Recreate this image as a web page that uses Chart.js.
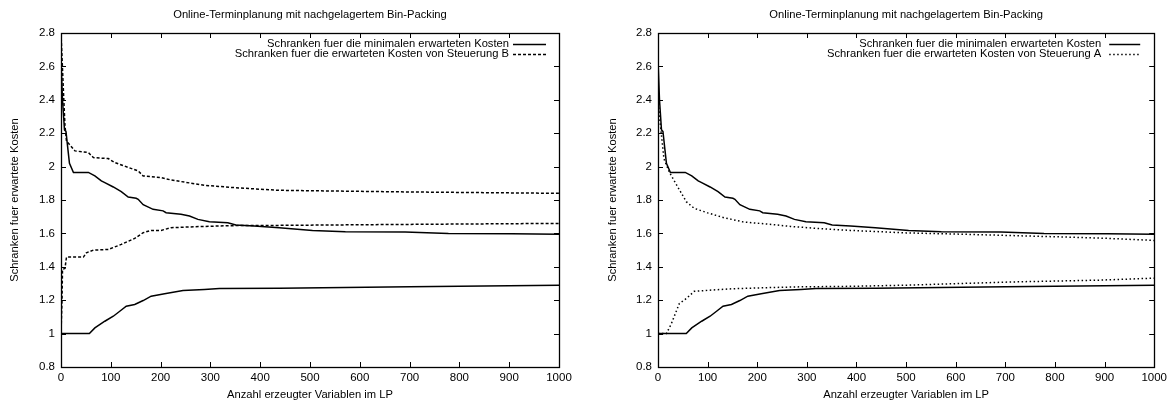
<!DOCTYPE html>
<html><head><meta charset="utf-8">
<script src="https://cdn.jsdelivr.net/npm/chart.js@4.4.0/dist/chart.umd.min.js"></script>
<style>
html,body{margin:0;padding:0;background:#fff;}
#wrap{position:relative;width:1171px;height:403px;overflow:hidden;}
canvas{position:absolute;top:0;}
</style></head><body>
<div id="wrap">
<canvas id="c1" width="585" height="403" style="left:0px"></canvas>
<canvas id="c2" width="586" height="403" style="left:585px"></canvas>
</div>
<script>
const chartTitle = "Online-Terminplanung mit nachgelagertem Bin-Packing";
const xAxisTitle = "Anzahl erzeugter Variablen im LP";
const yAxisTitle = "Schranken fuer erwartete Kosten";
const labelMin = "Schranken fuer die minimalen erwarteten Kosten";
const labelB = "Schranken fuer die erwarteten Kosten von Steuerung B";
const labelA = "Schranken fuer die erwarteten Kosten von Steuerung A";

const xTicks = [0,100,200,300,400,500,600,700,800,900,1000];
const xTickLabels = ["0","100","200","300","400","500","600","700","800","900","1000"];
const yTicks = [0.8,1.0,1.2,1.4,1.6,1.8,2.0,2.2,2.4,2.6,2.8];
const yTickLabels = ["0.8","1","1.2","1.4","1.6","1.8","2","2.2","2.4","2.6","2.8"];

// minimal expected cost: upper bound
const minUpperX = [0,3,7,10,14,17,25,55,68,81,88,105,121,135,151,155,165,185,205,211,241,258,275,298,335,351,388,438,505,571,691,778,905,1000];
const minUpperY = [2.64,2.40,2.22,2.21,2.10,2.02,1.965,1.965,1.944,1.914,1.904,1.878,1.85,1.818,1.81,1.804,1.772,1.744,1.735,1.724,1.715,1.704,1.684,1.67,1.664,1.65,1.644,1.634,1.617,1.61,1.608,1.6,1.598,1.595];
// minimal expected cost: lower bound
const minLowerX = [0,57,68,88,105,118,131,148,165,181,208,245,288,318,438,700,1000];
const minLowerY = [1.0,1.0,1.034,1.074,1.104,1.134,1.164,1.174,1.198,1.224,1.238,1.258,1.264,1.27,1.272,1.28,1.29];
// Steuerung B: upper bound
const bUpperX = [0,5,8,11,28,55,65,95,108,155,165,201,221,288,348,381,438,705,1000];
const bUpperY = [2.8,2.444,2.244,2.154,2.094,2.084,2.054,2.048,2.024,1.974,1.944,1.934,1.92,1.888,1.874,1.868,1.858,1.848,1.84];
// Steuerung B: lower bound
const bLowerX = [0,2,3,8,11,45,51,65,95,121,148,165,181,201,221,268,335,388,438,700,1000];
const bLowerY = [1.0,1.2,1.385,1.39,1.458,1.458,1.484,1.5,1.504,1.534,1.57,1.604,1.618,1.618,1.634,1.64,1.646,1.648,1.648,1.654,1.66];
// Steuerung A: upper bound
const aUpperX = [0,3,7,12,23,40,57,73,100,133,173,220,267,320,387,500,600,700,800,900,1000];
const aUpperY = [2.45,2.3,2.186,2.046,1.966,1.877,1.79,1.75,1.723,1.694,1.668,1.656,1.642,1.63,1.618,1.603,1.596,1.588,1.58,1.571,1.558];
// Steuerung A: lower bound
const aLowerX = [0,17,27,43,57,73,100,153,220,287,387,500,723,889,1000];
const aLowerY = [1.0,1.0,1.06,1.18,1.21,1.253,1.259,1.269,1.275,1.28,1.283,1.29,1.31,1.32,1.332];

const FONT = "'Liberation Sans', Arial, Helvetica, sans-serif";
const TEXT_SIZE = 11.2;
const TICK_SIZE = 11.5;
Chart.defaults.color = '#000';
Chart.defaults.font.family = FONT;

function pts(xs, ys){ return xs.map((x,i)=>({x:x, y:ys[i]})); }
function labelFor(ticks, labels, v){ const i = ticks.findIndex(t=>Math.abs(t-v)<1e-6); return i>=0 ? labels[i] : ''; }

const frameTicks = {
  id:'frameTicks',
  afterDatasetsDraw(chart){
    const {ctx, chartArea:a, scales} = chart;
    const L = 5;
    ctx.save();
    ctx.strokeStyle = '#000';
    ctx.lineWidth = 1;
    ctx.beginPath();
    xTicks.forEach(v=>{
      const px = Math.round(scales.x.getPixelForValue(v))+0.5;
      ctx.moveTo(px, a.bottom); ctx.lineTo(px, a.bottom-L);
      ctx.moveTo(px, a.top); ctx.lineTo(px, a.top+L);
    });
    yTicks.forEach(v=>{
      const py = Math.round(scales.y.getPixelForValue(v))+0.5;
      ctx.moveTo(a.left, py); ctx.lineTo(a.left+L, py);
      ctx.moveTo(a.right, py); ctx.lineTo(a.right-L, py);
    });
    ctx.stroke();
    ctx.lineWidth = 1.3;
    ctx.strokeRect(Math.round(a.left)+0.5, Math.round(a.top)+0.5, Math.round(a.right-a.left), Math.round(a.bottom-a.top));
    ctx.restore();
  }
};

const topTitle = {
  id:'topTitle',
  afterDraw(chart){
    const {ctx, chartArea:a} = chart;
    ctx.save();
    ctx.fillStyle = '#000';
    ctx.font = TEXT_SIZE + "px " + FONT;
    ctx.textAlign = 'center';
    ctx.textBaseline = 'middle';
    ctx.fillText(chartTitle, (a.left+a.right)/2, 15);
    ctx.restore();
  }
};

const keyLegend = {
  id:'keyLegend',
  afterDatasetsDraw(chart, args, opts){
    const {ctx, chartArea:a} = chart;
    ctx.save();
    ctx.font = TEXT_SIZE + "px " + FONT;
    ctx.fillStyle = '#000';
    ctx.textAlign = 'right';
    ctx.textBaseline = 'middle';
    opts.entries.forEach((idx, row)=>{
      const ds = chart.data.datasets[idx];
      const y = a.top + opts.rowTop + row*opts.rowGap;
      ctx.fillText(ds.label, a.right - opts.textRight, y);
      ctx.beginPath();
      ctx.strokeStyle = ds.borderColor;
      ctx.lineWidth = ds.borderWidth;
      ctx.setLineDash(ds.borderDash || []);
      ctx.moveTo(a.right - opts.sampleStart, Math.round(y)+0.5);
      ctx.lineTo(a.right - opts.sampleEnd, Math.round(y)+0.5);
      ctx.stroke();
    });
    ctx.restore();
  }
};

function makeConfig(datasets, yWidth, padRight, yTitlePad, legendOpts){
  return {
    type:'line',
    data:{datasets:datasets},
    options:{
      responsive:false,
      animation:false,
      devicePixelRatio:1,
      layout:{padding:{top:33, right:padRight, bottom:0, left:0}},
      elements:{point:{radius:0}, line:{tension:0}},
      plugins:{
        legend:{display:false},
        tooltip:{enabled:false},
        title:{display:false},
        keyLegend:legendOpts
      },
      scales:{
        x:{
          type:'linear', min:0, max:1000,
          afterBuildTicks:(s)=>{ s.ticks = xTicks.map(v=>({value:v})); },
          afterFit:(s)=>{ s.height = 36; },
          ticks:{font:{size:TICK_SIZE, family:FONT}, padding:4, maxRotation:0, autoSkip:false, color:'#000',
            callback:(v)=>labelFor(xTicks, xTickLabels, v)},
          grid:{display:false, drawTicks:false},
          border:{display:false},
          title:{display:true, text:xAxisTitle, font:{size:TEXT_SIZE, family:FONT}, color:'#000', padding:{top:0,bottom:1.3}}
        },
        y:{
          type:'linear', min:0.8, max:2.8,
          afterBuildTicks:(s)=>{ s.ticks = yTicks.map(v=>({value:v})); },
          afterFit:(s)=>{ s.width = yWidth; },
          ticks:{font:{size:TICK_SIZE, family:FONT}, padding:6, color:'#000',
            callback:(v)=>labelFor(yTicks, yTickLabels, v)},
          grid:{display:false, drawTicks:false},
          border:{display:false},
          title:{display:true, text:yAxisTitle, font:{size:TEXT_SIZE, family:FONT}, color:'#000', padding:{top:yTitlePad,bottom:0}}
        }
      }
    },
    plugins:[frameTicks, topTitle, keyLegend]
  };
}

const solid = {borderColor:'#000', borderWidth:1.5, fill:false};

const ds1 = [
  Object.assign({label:labelMin, data:pts(minUpperX,minUpperY)}, solid),
  Object.assign({label:labelMin, data:pts(minLowerX,minLowerY)}, solid),
  Object.assign({label:labelB, data:pts(bUpperX,bUpperY), borderDash:[3,2]}, solid),
  Object.assign({label:labelB, data:pts(bLowerX,bLowerY), borderDash:[3,2]}, solid)
];
const ds2 = [
  Object.assign({label:labelMin, data:pts(minUpperX,minUpperY)}, solid),
  Object.assign({label:labelMin, data:pts(minLowerX,minLowerY)}, solid),
  Object.assign({label:labelA, data:pts(aUpperX,aUpperY), borderDash:[1.5,2.5]}, solid),
  Object.assign({label:labelA, data:pts(aLowerX,aLowerY), borderDash:[1.5,2.5]}, solid)
];

new Chart(document.getElementById('c1'), makeConfig(ds1, 61, 26, 8.3,
  {entries:[0,2], rowTop:10.5, rowGap:10, textRight:50, sampleStart:46, sampleEnd:13}));
new Chart(document.getElementById('c2'), makeConfig(ds2, 73, 14, 21.3,
  {entries:[0,2], rowTop:10.5, rowGap:10, textRight:53, sampleStart:45, sampleEnd:14}));
</script>
</body></html>
